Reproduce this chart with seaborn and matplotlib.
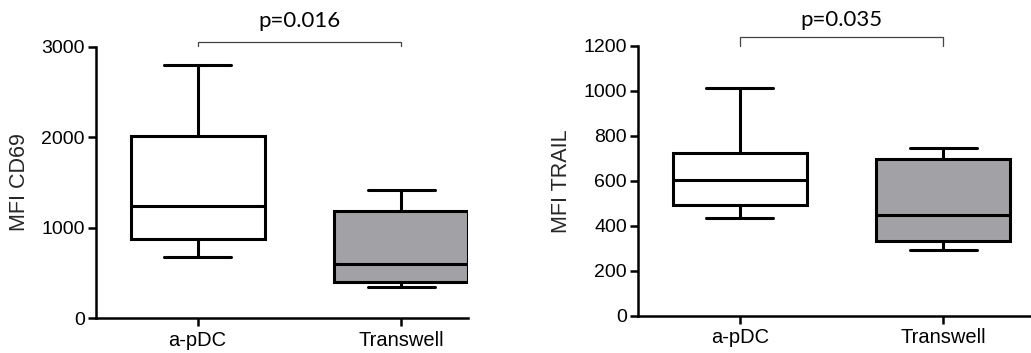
"""Box plots of CD69 and TRAIL MFI, a-pDC vs Transwell."""
import pandas as pd
import seaborn as sns
import matplotlib.pyplot as plt

sns.set_theme(style="ticks")
plt.rcParams["font.family"] = ["Liberation Sans", "DejaVu Sans"]

groups = ["a-pDC", "Transwell"]
# five values per group: min, q1, median, q3, max
cd69_apdc = [680, 880, 1240, 2010, 2800]
cd69_transwell = [340, 400, 595, 1190, 1420]
trail_apdc = [434, 492, 604, 724, 1015]
trail_transwell = [293, 333, 449, 699, 748]
pvalues = ["p=0.016", "p=0.035"]

box_colors = ["white", "#a2a1a6"]


def make_frame(a, b):
    return pd.DataFrame({
        "group": [groups[0]] * len(a) + [groups[1]] * len(b),
        "value": a + b,
    })


def draw_panel(ax, df, ylabel, ymax, step, pval, bracket_y, xmax):
    lw = 2.2
    line = dict(color="black", linewidth=lw)
    sns.boxplot(
        data=df, x="group", y="value", hue="group", order=groups,
        palette=box_colors, saturation=1, width=0.66, whis=(0, 100),
        legend=False, ax=ax, linecolor="black", linewidth=lw,
        boxprops=dict(edgecolor="black", linewidth=lw),
        medianprops=line, whiskerprops=line, capprops=line,
    )
    ax.set_ylim(0, ymax)
    ax.set_yticks(range(0, ymax + 1, step))
    ax.set_xlim(-0.5, xmax)
    ax.set_xlabel("")
    ax.set_ylabel(ylabel, fontsize=15.5, labelpad=8)
    sns.despine(ax=ax)
    for side in ["left", "bottom"]:
        ax.spines[side].set_linewidth(1.8)
        ax.spines[side].set_color("black")
    ax.tick_params(axis="both", direction="out", length=6, width=1.8,
                   colors="black", pad=2)
    ax.tick_params(axis="y", labelsize=14)
    ax.tick_params(axis="x", labelsize=14.5, pad=3)

    # significance bracket above the boxes
    trans = ax.get_xaxis_transform()
    top, leg = bracket_y
    ax.plot([0, 0, 1, 1], [leg, top, top, leg], color="#444444",
            linewidth=0.9, transform=trans, clip_on=False)
    ax.text(0.5, 1.095, pval, transform=trans, ha="center", va="center",
            fontsize=16, family=["Lato", "DejaVu Sans"], color="black")


fig = plt.figure(figsize=(10.31, 3.53), dpi=100)
ax1 = fig.add_axes([0.0931, 0.099, 0.361, 0.768])
ax2 = fig.add_axes([0.6188, 0.105, 0.381, 0.765])

draw_panel(ax1, make_frame(cd69_apdc, cd69_transwell), "MFI CD69",
           3000, 1000, pvalues[0], (1.018, 1.004), 1.33)
draw_panel(ax2, make_frame(trail_apdc, trail_transwell), "MFI TRAIL",
           1200, 200, pvalues[1], (1.034, 1.0), 1.43)

fig.savefig("out.png", dpi=100)
